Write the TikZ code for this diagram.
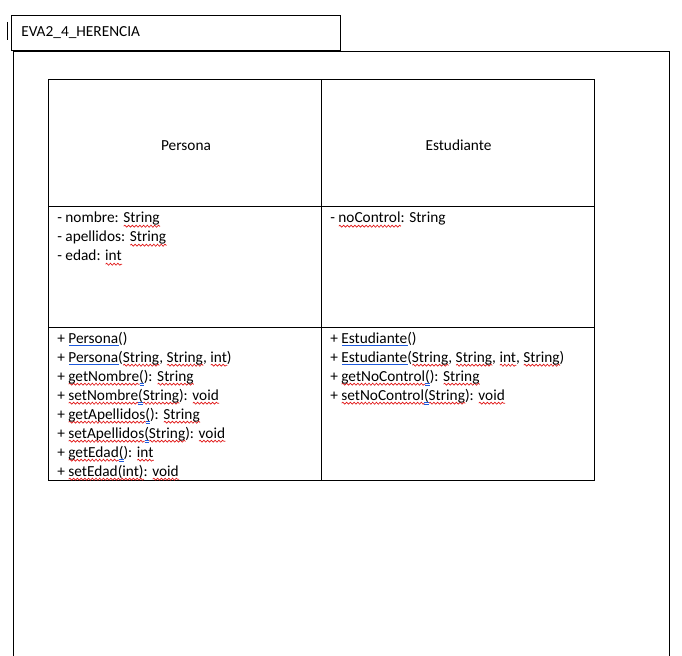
\documentclass[tikz,border=0pt]{standalone}
\usepackage{fontspec}
\setmainfont{Carlito}
\usetikzlibrary{decorations.pathmorphing}
\definecolor{sqred}{RGB}{225,20,20}
\definecolor{sqblue}{RGB}{30,90,220}
\newlength\mywlen
\newcommand\rw[1]{\settowidth\mywlen{#1}\rlap{\raisebox{-3.4pt}{\tikz\draw[sqred, line width=0.5pt, decorate, decoration={snake, amplitude=0.75pt, segment length=2.8pt}] (0pt,0pt) -- (\mywlen,0pt);}}#1}
\newcommand\bu[1]{\settowidth\mywlen{#1}\rlap{\raisebox{-2.2pt}{\tikz\draw[sqblue, line width=0.7pt] (0pt,0pt) -- (\mywlen,0pt);}}#1}
\newcommand\bm[1]{\settowidth\mywlen{#1}\rlap{\raisebox{-3.2pt}{\tikz{\draw[sqblue, line width=0.5pt] (0pt,0pt) -- (\mywlen,0pt); \draw[sqblue, line width=0.5pt] (0pt,1.1pt) -- (\mywlen,1.1pt);}}}#1}
\begin{document}
\begin{tikzpicture}[x=0.75pt, y=-0.75pt,
  frame/.style={line width=0.75pt, black},
  grid/.style={line width=0.75pt, black},
  txt/.style={anchor=base west, inner sep=0pt, font=\fontsize{11.5}{14}\selectfont},
  hdr/.style={anchor=base, inner sep=0pt, font=\fontsize{11.5}{14}\selectfont}]
\useasboundingbox[fill=white] (0,0) rectangle (682,656);
% cursor
\draw[line width=0.6pt] (7,22) -- (7,40);
% tab box
\draw[frame] (11,16) rectangle (340,51);
\node[txt] (tab) at (21,36.5) {EVA2\_4\_HERENCIA};
% outer frame
\draw[frame] (13,656) -- (13,51.8) -- (669,51.8) -- (669,656);
% table
\draw[grid] (48,80) rectangle (594,480);
\draw[grid] (321,80) -- (321,480);
\draw[grid] (48,207) -- (594,207);
\draw[grid] (48,327) -- (594,327);
% headers
\node[hdr] (persona) at (186,150.5) {Persona};
\node[hdr] (estudiante) at (458.5,150.5) {Estudiante};
% attributes
\node[txt] (a1) at (57,223) {- nombre: \rw{String}};
\node[txt] (a2) at (57,242) {- apellidos: \rw{String}};
\node[txt] (a3) at (57,261) {- edad: \rw{int}};
\node[txt] (b1) at (330,223) {- \rw{noControl}: String};
% methods Persona
\node[txt] (m1) at (57,343) {+ \bu{Persona}()};
\node[txt] (m2) at (57,362) {+ \bu{Persona}(\rw{String}, \rw{String}, \rw{int})};
\node[txt] (m3) at (57,381) {+ \rw{getNombre}\bm{(}): \rw{String}};
\node[txt] (m4) at (57,400) {+ \rw{setNombre}\bm{(}\rw{String}): \rw{void}};
\node[txt] (m5) at (57,419) {+ \rw{getApellidos}\bm{(}): \rw{String}};
\node[txt] (m6) at (57,438) {+ \rw{setApellidos}\bm{(}\rw{String}): \rw{void}};
\node[txt] (m7) at (57,457) {+ \rw{getEdad}\bm{(}): \rw{int}};
\node[txt] (m8) at (57,476) {+ \rw{setEdad(int)}: \rw{void}};
% methods Estudiante
\node[txt] (n1) at (330,343) {+ \bu{Estudiante}()};
\node[txt] (n2) at (330,362) {+ \bu{Estudiante}(\rw{String}, \rw{String}, \rw{int}, \rw{String})};
\node[txt] (n3) at (330,381) {+ \rw{getNoControl}\bm{(}): \rw{String}};
\node[txt] (n4) at (330,400) {+ \rw{setNoControl}\bm{(}\rw{String}): \rw{void}};
\end{tikzpicture}
\end{document}
